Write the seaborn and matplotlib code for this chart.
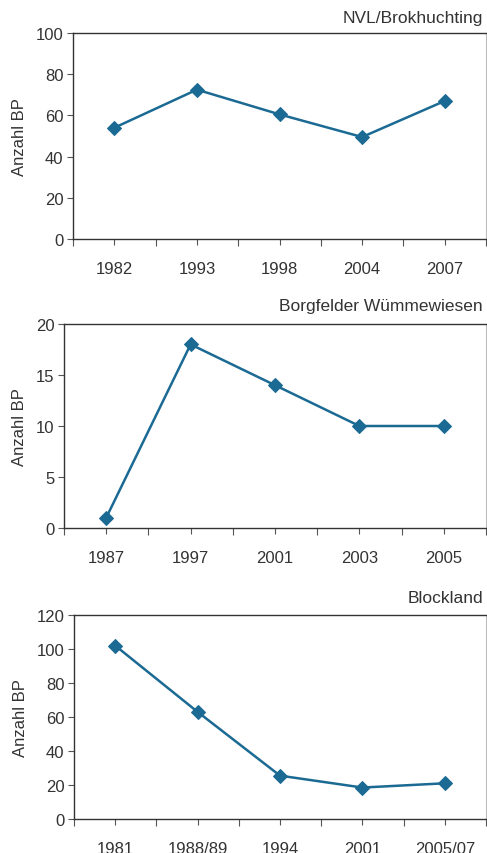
import matplotlib
matplotlib.use("Agg")
import matplotlib.pyplot as plt
import seaborn as sns
import pandas as pd

# Daten (Anzahl Brutpaare je Gebiet)
titles = ["NVL/Brokhuchting", "Borgfelder Wümmewiesen", "Blockland"]
years_1 = ["1982", "1993", "1998", "2004", "2007"]
bp_1 = [54, 72.5, 60.5, 49.5, 67]
years_2 = ["1987", "1997", "2001", "2003", "2005"]
bp_2 = [1, 18, 14, 10, 10]
years_3 = ["1981", "1988/89", "1994", "2001", "2005/07"]
bp_3 = [102, 63, 25.5, 18.5, 21]

y_limits = [(0, 100, 20), (0, 20, 5), (0, 120, 20)]

LINE_COLOR = "#1b6a93"
TEXT_COLOR = "#333333"

sns.set_style("white")
plt.rcParams["font.family"] = ["Liberation Sans", "DejaVu Sans"]

W, H = 487, 854
fig = plt.figure(figsize=(W / 100, H / 100), dpi=100)

# Achsenpositionen in Pixeln: (links, oben, rechts, unten)
boxes = [(73, 34, 486, 240), (64, 325, 486, 529), (74, 616, 486, 820)]
title_y = [19, 307, 599]

panels = [(years_1, bp_1), (years_2, bp_2), (years_3, bp_3)]

for i, ((years, bp), box) in enumerate(zip(panels, boxes)):
    l, t, r, b = box
    ax = fig.add_axes([l / W, 1 - b / H, (r - l) / W, (b - t) / H])
    df = pd.DataFrame({"Jahr": years, "BP": bp})
    sns.lineplot(data=df, x="Jahr", y="BP", ax=ax, color=LINE_COLOR,
                 marker="D", markersize=7, markeredgecolor=LINE_COLOR,
                 linewidth=1.8, sort=False)
    lo, hi, step = y_limits[i]
    ax.set_ylim(lo, hi)
    ax.set_yticks(range(lo, hi + 1, step))
    ax.set_xlim(-0.5, len(years) - 0.5)
    ax.set_xticks(range(len(years)))
    ax.set_xticklabels(years)
    ax.set_xticks([k - 0.5 for k in range(len(years) + 1)], minor=True)
    ax.tick_params(axis="x", which="both", bottom=True, direction="out")
    ax.tick_params(axis="y", left=True, direction="out")
    ax.tick_params(axis="x", which="major", length=4, width=0.8, pad=12,
                   colors="#555555", labelcolor=TEXT_COLOR, labelsize=12)
    ax.tick_params(axis="x", which="minor", length=5, width=0.8, colors="#555555")
    ax.tick_params(axis="y", length=4, width=0.8, pad=3,
                   colors="#555555", labelcolor=TEXT_COLOR, labelsize=12)
    ax.set_xlabel("")
    ax.set_ylabel("Anzahl BP", fontsize=12, color=TEXT_COLOR, labelpad=6)
    for side in ["left", "bottom", "top"]:
        ax.spines[side].set_color("#333333")
        ax.spines[side].set_linewidth(1.0)
    ax.spines["right"].set_color("#bbbbbb")
    ax.spines["right"].set_linewidth(0.8)
    fig.text(483 / W, 1 - title_y[i] / H, titles[i], ha="right", va="center",
             fontsize=12.5, color=TEXT_COLOR)

fig.savefig("out.png", dpi=100)
